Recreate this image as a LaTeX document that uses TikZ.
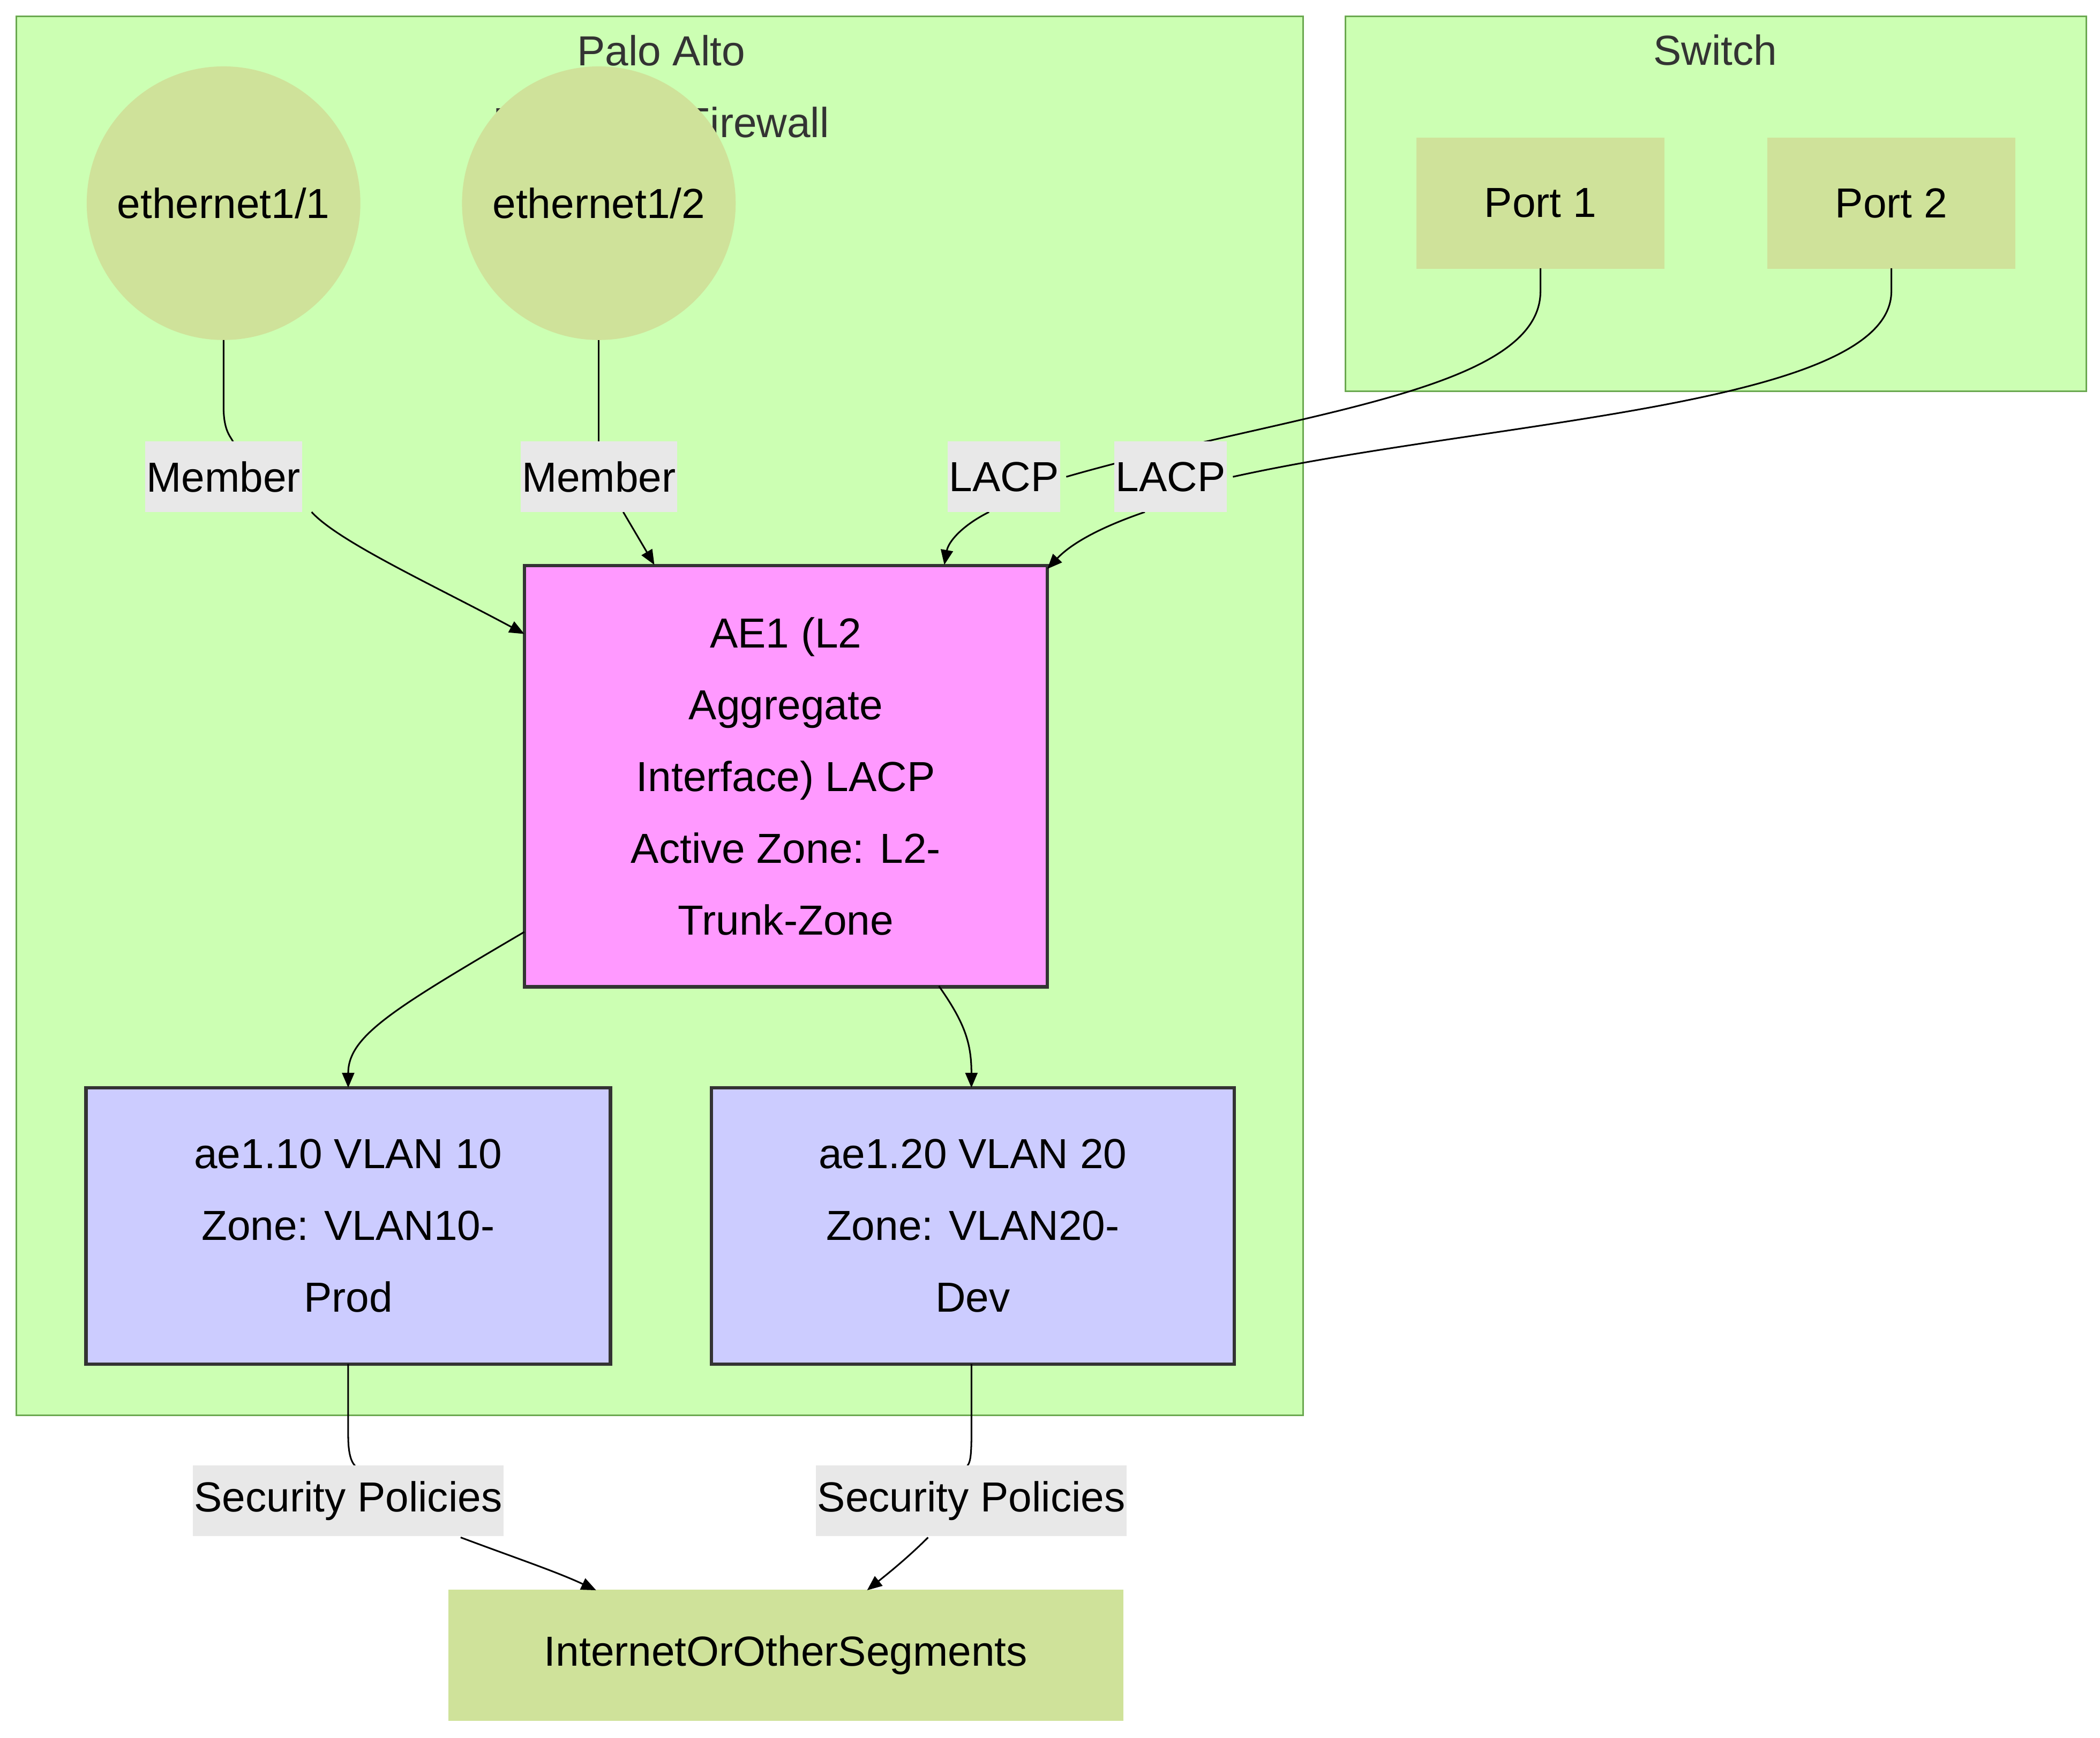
\documentclass[tikz,border=0pt]{standalone}
\usepackage{fontspec}
\setmainfont{Liberation Sans}
\usetikzlibrary{arrows.meta}
\definecolor{clfill}{HTML}{CCFFB3}
\definecolor{clline}{HTML}{6AA84F}
\definecolor{nfill}{HTML}{CFE29A}
\definecolor{aefill}{HTML}{FF99FF}
\definecolor{vfill}{HTML}{CCCCFF}
\definecolor{lbl}{HTML}{E8E8E8}
\definecolor{dk}{HTML}{333333}
\begin{document}
\begin{tikzpicture}[x=1pt,y=-1pt,
  every node/.style={font=\fontsize{31}{53}\selectfont, inner sep=0pt},
  cluster/.style={draw=clline, fill=clfill, line width=1.2pt},
  ctitle/.style={text=dk, align=center},
  plain/.style={fill=nfill, minimum width=183pt, minimum height=97pt},
  circ/.style={circle, fill=nfill, minimum size=202pt},
  box/.style={draw=dk, line width=2.5pt, align=center},
  lab/.style={fill=lbl, inner xsep=1pt, minimum height=52pt},
  conn/.style={draw=black, line width=1.2pt},
  arr/.style={conn, -{Triangle[length=11pt,width=9pt]}}]
\useasboundingbox (0,0) rectangle (1550,1283);
\fill[white] (0,0) rectangle (1550,1283);
\draw[cluster] (12,12) rectangle (962,1045);
\draw[cluster] (993,12) rectangle (1540,289);
\node[ctitle] (t1) at (488,64) {Palo Alto\\Next-Gen Firewall};
\node[ctitle] (t2) at (1266,37) {Switch};
\node[circ] (e1) at (165,150) {};
\node at (e1) {ethernet1/1};
\node[circ] (e2) at (442,150) {};
\node at (e2) {ethernet1/2};
\node[plain] (p1) at (1137,150) {Port 1};
\node[plain] (p2) at (1396,150) {Port 2};
\node[box, fill=aefill, minimum width=386pt, minimum height=311pt] (ae) at (580,573) {AE1 (L2\\Aggregate\\Interface) LACP\\Active Zone: L2-\\Trunk-Zone};
\node[box, fill=vfill, minimum width=387pt, minimum height=204pt] (v10) at (257,905) {ae1.10 VLAN 10\\Zone: VLAN10-\\Prod};
\node[box, fill=vfill, minimum width=386pt, minimum height=204pt] (v20) at (718,905) {ae1.20 VLAN 20\\Zone: VLAN20-\\Dev};
\node[plain, minimum width=498pt] (net) at (580,1222) {InternetOrOtherSegments};
% edges
\coordinate (e1b) at (165,251); \coordinate (e2b) at (442,251);
\coordinate (p1b) at (1137,198); \coordinate (p2b) at (1396,198);
\path[conn] (e1b) -- (165,300) .. controls (165,318) and (170,322) .. (172,326);
\draw[arr] (230,378) .. controls (250,400) and (320,432) .. (387,468);
\path[conn] (e2b) -- (442,326);
\draw[arr] (460,378) -- (483,417);
\path[conn] (p1b) -- (1137,215) .. controls (1137,290) and (950,305) .. (787,352);
\draw[arr] (730,378) .. controls (710,388) and (700,400) .. (697,417);
\path[conn] (p2b) -- (1396,215) .. controls (1396,300) and (1100,310) .. (910,352);
\draw[arr] (845,378) .. controls (810,390) and (790,402) .. (773,420);
\draw[arr] (387,688) .. controls (290,745) and (257,765) .. (257,803);
\draw[arr] (693,728) .. controls (712,755) and (717,770) .. (717,803);
\path[conn] (257,1007) -- (257,1060) .. controls (257,1075) and (260,1080) .. (262,1082);
\draw[arr] (340,1135) .. controls (380,1150) and (410,1160) .. (440,1174);
\path[conn] (717,1007) -- (717,1060) .. controls (717,1075) and (716,1080) .. (714,1082);
\draw[arr] (685,1135) .. controls (670,1150) and (655,1162) .. (640,1174);
\node[lab] (l1) at (165,352) {Member};
\node[lab] (l2) at (442,352) {Member};
\node[lab] (l3) at (741,352) {LACP};
\node[lab] (l4) at (864,352) {LACP};
\node[lab] (l5) at (257,1108) {Security Policies};
\node[lab] (l6) at (717,1108) {Security Policies};
\end{tikzpicture}
\end{document}
